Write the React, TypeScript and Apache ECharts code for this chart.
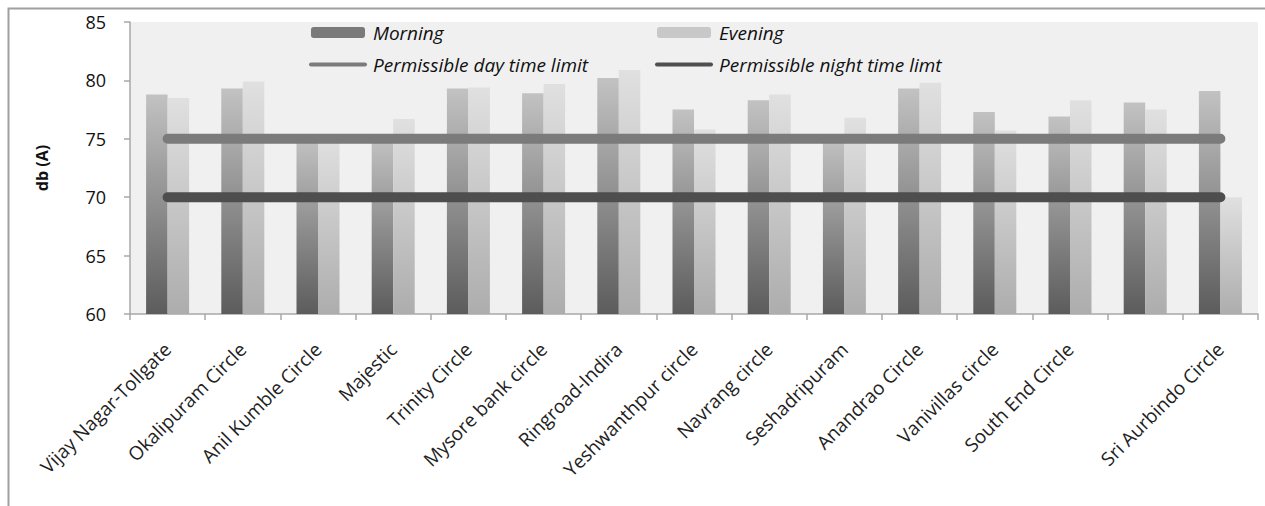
import React, { useEffect, useRef } from "react";
import * as echarts from "echarts";

// Traffic junctions where noise was sampled
const locations = [
  "Vijay Nagar-Tollgate",
  "Okalipuram Circle",
  "Anil Kumble Circle",
  "Majestic",
  "Trinity Circle",
  "Mysore bank circle",
  "Ringroad-Indira",
  "Yeshwanthpur circle",
  "Navrang circle",
  "Seshadripuram",
  "Anandrao Circle",
  "Vanivillas circle",
  "South End Circle",
  "",
  "Sri Aurbindo Circle",
];

// Measured sound levels, dB(A)
const morning = [78.8, 79.3, 75.0, 75.0, 79.3, 78.9, 80.2, 77.5, 78.3, 75.1, 79.3, 77.3, 76.9, 78.1, 79.1];
const evening = [78.5, 79.9, 75.1, 76.7, 79.4, 79.7, 80.9, 75.8, 78.8, 76.8, 79.8, 75.7, 78.3, 77.5, 70.0];

// Permissible limits, dB(A)
const dayLimit = [75, 75, 75, 75, 75, 75, 75, 75, 75, 75, 75, 75, 75, 75, 75];
const nightLimit = [70, 70, 70, 70, 70, 70, 70, 70, 70, 70, 70, 70, 70, 70, 70];

const yTicks = { min: 60, max: 85, step: 5 };

const FONT = "'Open Sans', Lato, sans-serif";

export default function App() {
  const ref = useRef<HTMLDivElement>(null);

  useEffect(() => {
    if (!ref.current) return;
    const chart = echarts.init(ref.current, null, { renderer: "svg" });

    const morningFill = new echarts.graphic.LinearGradient(0, 0, 0, 1, [
      { offset: 0, color: "#c2c2c2" },
      { offset: 1, color: "#5c5c5c" },
    ]);
    const eveningFill = new echarts.graphic.LinearGradient(0, 0, 0, 1, [
      { offset: 0, color: "#e0e0e0" },
      { offset: 1, color: "#adadad" },
    ]);

    const legendText = {
      fontFamily: FONT,
      fontStyle: "italic" as const,
      fontSize: 19,
      color: "#111",
      padding: [0, 0, 0, 3],
    };

    // line entries show only the stroke, no marker in the middle
    const hiddenMarker = { color: "rgba(0,0,0,0)", opacity: 0, borderWidth: 0 };

    chart.setOption({
      animation: false,
      backgroundColor: "#ffffff",
      textStyle: { fontFamily: FONT },
      graphic: [
        {
          type: "rect",
          shape: { x: 8.5, y: 8.5, width: 1300, height: 600 },
          style: { fill: "none", stroke: "#a0a0a0", lineWidth: 2 },
          silent: true,
        },
      ],
      grid: {
        left: 130,
        right: 7,
        top: 22,
        bottom: 192,
        show: true,
        backgroundColor: "#f0f0f0",
        borderWidth: 0,
      },
      legend: [
        {
          left: 304,
          top: 18,
          orient: "vertical",
          itemWidth: 54,
          itemHeight: 11,
          itemGap: 13,
          textStyle: legendText,
          data: [
            { name: "Morning", itemStyle: { color: "#7a7a7a" } },
            {
              name: "Permissible day time limit",
              itemStyle: hiddenMarker,
              lineStyle: { width: 4 },
            },
          ],
        },
        {
          left: 650,
          top: 18,
          orient: "vertical",
          itemWidth: 54,
          itemHeight: 11,
          itemGap: 13,
          textStyle: legendText,
          data: [
            { name: "Evening", itemStyle: { color: "#c8c8c8" } },
            {
              name: "Permissible night time limt",
              itemStyle: hiddenMarker,
              lineStyle: { width: 4 },
            },
          ],
        },
      ],
      xAxis: {
        type: "category",
        data: locations,
        axisLine: { lineStyle: { color: "#a8a8a8", width: 1.5 } },
        axisTick: { show: true, length: 6, lineStyle: { color: "#a8a8a8", width: 1.5 } },
        axisLabel: {
          interval: 0,
          rotate: 45,
          margin: 32,
          fontSize: 19,
          color: "#222",
          fontFamily: FONT,
        },
        splitLine: { show: false },
      },
      yAxis: {
        type: "value",
        min: yTicks.min,
        max: yTicks.max,
        interval: yTicks.step,
        name: "db (A)",
        nameLocation: "middle",
        nameGap: 80,
        nameTextStyle: { fontSize: 16, fontWeight: "bold", color: "#111", fontFamily: FONT },
        axisLine: { show: true, lineStyle: { color: "#a8a8a8", width: 1.5 } },
        axisTick: { show: true, length: 6, lineStyle: { color: "#a8a8a8", width: 1.5 } },
        axisLabel: { fontSize: 18, color: "#111", margin: 24, fontFamily: FONT },
        splitLine: { show: false },
      },
      series: [
        {
          name: "Morning",
          type: "bar",
          data: morning,
          barWidth: 21.5,
          barGap: "0%",
          itemStyle: { color: morningFill },
          z: 2,
        },
        {
          name: "Evening",
          type: "bar",
          data: evening,
          barWidth: 21.5,
          barGap: "0%",
          itemStyle: { color: eveningFill },
          z: 2,
        },
        {
          name: "Permissible day time limit",
          type: "line",
          data: dayLimit,
          symbol: "none",
          lineStyle: { color: "#7b7b7b", width: 10, cap: "round" },
          itemStyle: { color: "#7b7b7b" },
          z: 5,
        },
        {
          name: "Permissible night time limt",
          type: "line",
          data: nightLimit,
          symbol: "none",
          lineStyle: { color: "#4e4e4e", width: 10, cap: "round" },
          itemStyle: { color: "#4e4e4e" },
          z: 5,
        },
      ],
    });

    return () => chart.dispose();
  }, []);

  return (
    <div
      ref={ref}
      style={{ position: "absolute", left: 0, top: 0, width: 1265, height: 506 }}
    />
  );
}
